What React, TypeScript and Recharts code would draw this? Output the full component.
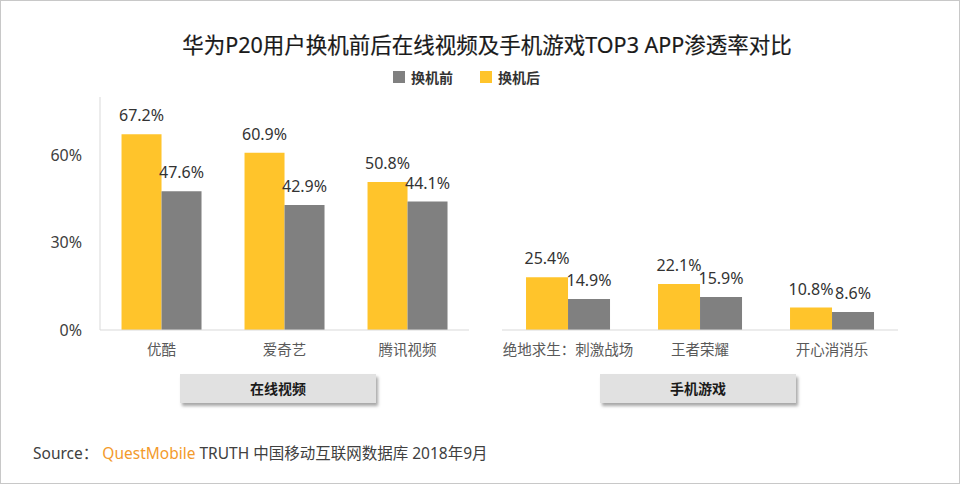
import { BarChart, Bar, XAxis, YAxis, LabelList } from 'recharts';

const videoApps = ['优酷', '爱奇艺', '腾讯视频'];
const videoAfter = [67.2, 60.9, 50.8];
const videoBefore = [47.6, 42.9, 44.1];

const gameApps = ['绝地求生：刺激战场', '王者荣耀', '开心消消乐'];
const gameAfter = [25.4, 22.1, 10.8];
const gameBefore = [14.9, 15.9, 8.6];

const yTicks = [0, 30, 60];

const YELLOW = '#FFC42B';
const GRAY = '#808080';
const FONT = "'Noto Sans', 'Noto Sans CJK SC', sans-serif";

const videoData = videoApps.map((name, i) => ({ name, after: videoAfter[i], before: videoBefore[i] }));
const gameData = gameApps.map((name, i) => ({ name, after: gameAfter[i], before: gameBefore[i] }));

const pct = (v: number) => `${v}%`;
const labelStyle = { fontSize: 16, fill: '#333', fontFamily: FONT };
const tickStyle = { fontSize: 14.5, fill: '#595959', fontFamily: FONT };

function GroupBox({ left, text }: { left: number; text: string }) {
  return (
    <div
      style={{
        position: 'absolute',
        left,
        top: 373,
        width: 196,
        height: 29,
        background: '#e1e1e1',
        boxShadow: '2px 3px 3px rgba(0,0,0,0.35)',
        fontFamily: FONT,
        fontWeight: 'bold',
        fontSize: 14,
        color: '#1a1a1a',
        lineHeight: '29px',
        textAlign: 'center',
      }}
    >
      {text}
    </div>
  );
}

export default function App() {
  return (
    <div
      style={{
        position: 'absolute',
        left: 0,
        top: 0,
        width: 960,
        height: 484,
        boxSizing: 'border-box',
        border: '1px solid #c8c8c8',
        background: '#fff',
        fontFamily: FONT,
      }}
    >
      <div
        style={{
          position: 'absolute',
          left: 0,
          width: 960,
          top: 27,
          textAlign: 'center',
          fontSize: 21.5,
          fontWeight: 'normal',
          color: '#1a1a1a',
          marginLeft: 6,
          WebkitTextStroke: '0.2px #1a1a1a',
        }}
      >
        华为P20用户换机前后在线视频及手机游戏TOP3 APP渗透率对比
      </div>

      <div style={{ position: 'absolute', left: 392, top: 66, display: 'flex', alignItems: 'center', fontSize: 14, fontWeight: 'bold', color: '#333' }}>
        <span style={{ width: 12, height: 12, background: GRAY, marginRight: 6, display: 'inline-block' }} />
        <span>换机前</span>
        <span style={{ width: 12, height: 12, background: YELLOW, marginLeft: 27, marginRight: 6, display: 'inline-block' }} />
        <span>换机后</span>
      </div>

      <div style={{ position: 'absolute', left: -1, top: -1 }}>
        <BarChart
          width={480}
          height={484}
          data={videoData}
          margin={{ top: 97, right: 11, bottom: 124, left: 0 }}
          barCategoryGap="17.5%"
          barGap={0}
        >
          <XAxis
            dataKey="name"
            axisLine={{ stroke: '#d9d9d9' }}
            tickLine={false}
            tickSize={0}
            tickMargin={15}
            height={30}
            tick={tickStyle}
            interval={0}
          />
          <YAxis
            domain={[0, 80]}
            ticks={yTicks}
            tickFormatter={pct}
            axisLine={{ stroke: '#d9d9d9' }}
            tickLine={false}
            tickSize={0}
            tickMargin={18}
            width={100}
            tick={{ fontSize: 16, fill: '#404040', fontFamily: FONT }}
          />
          <Bar dataKey="after" fill={YELLOW} isAnimationActive={false}>
            <LabelList dataKey="after" position="top" offset={13} formatter={pct} style={labelStyle} />
          </Bar>
          <Bar dataKey="before" fill={GRAY} isAnimationActive={false}>
            <LabelList dataKey="before" position="top" offset={13} formatter={pct} style={labelStyle} />
          </Bar>
        </BarChart>
      </div>

      <div style={{ position: 'absolute', left: 479, top: -1 }}>
        <BarChart
          width={480}
          height={484}
          data={gameData}
          margin={{ top: 97, right: 62, bottom: 124, left: 22 }}
          barCategoryGap="18.2%"
          barGap={0}
        >
          <XAxis
            dataKey="name"
            axisLine={{ stroke: '#d9d9d9' }}
            tickLine={false}
            tickSize={0}
            tickMargin={15}
            height={30}
            tick={tickStyle}
            interval={0}
          />
          <YAxis hide domain={[0, 112]} />
          <Bar dataKey="after" fill={YELLOW} isAnimationActive={false}>
            <LabelList dataKey="after" position="top" offset={13} formatter={pct} style={labelStyle} />
          </Bar>
          <Bar dataKey="before" fill={GRAY} isAnimationActive={false}>
            <LabelList dataKey="before" position="top" offset={13} formatter={pct} style={labelStyle} />
          </Bar>
        </BarChart>
      </div>

      <GroupBox left={179} text="在线视频" />
      <GroupBox left={599} text="手机游戏" />

      <div style={{ position: 'absolute', left: 32, top: 440, fontSize: 15.5, color: '#404040', whiteSpace: 'nowrap' }}>
        Source：&nbsp;<span style={{ color: '#F39A2B' }}>QuestMobile</span> TRUTH 中国移动互联网数据库 2018年9月
      </div>
    </div>
  );
}
